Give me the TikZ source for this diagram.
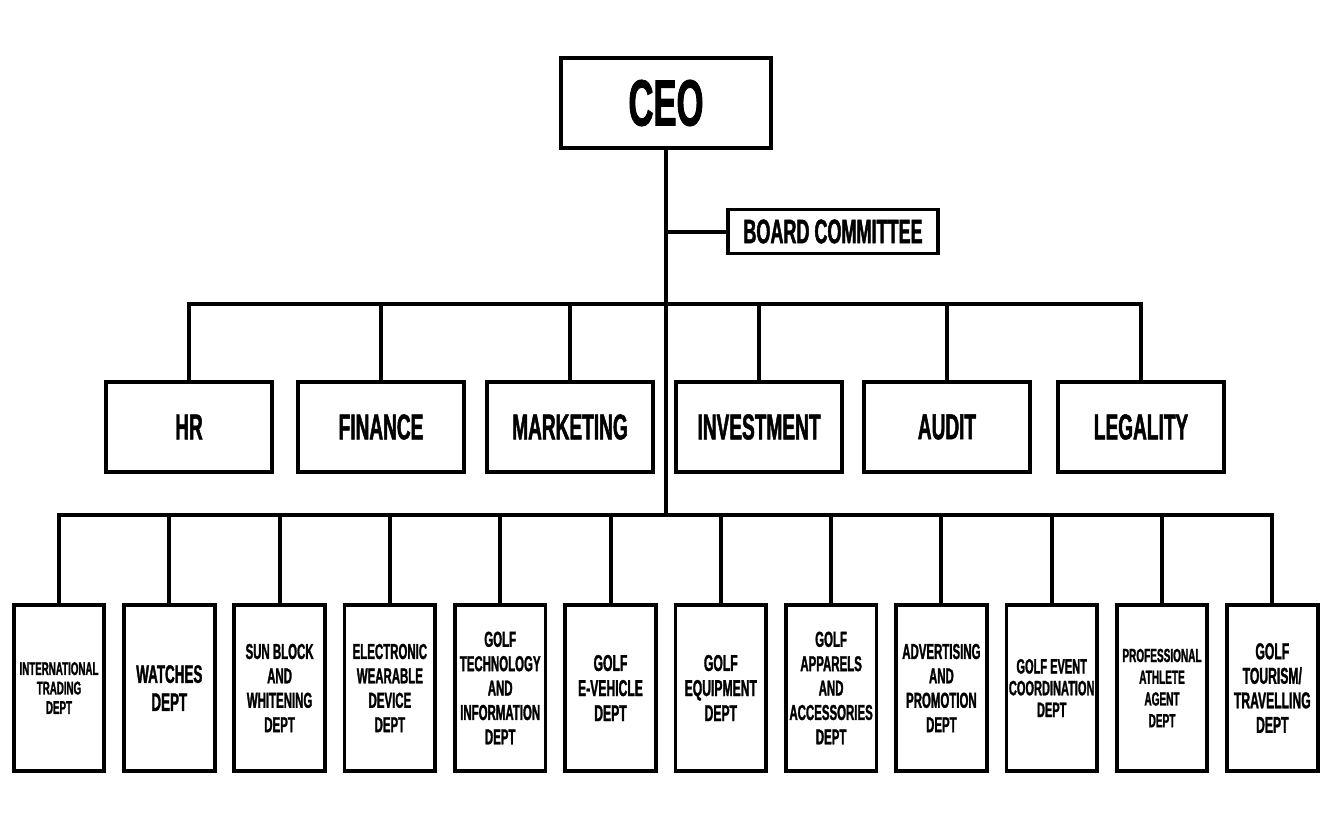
\documentclass[tikz,border=0pt]{standalone}
\usepackage{fontspec}
\newfontfamily\orgfont[FakeStretch=0.53,FakeBold=1.3]{Liberation Sans}

\tikzset{box/.style={draw,line width=2.8pt,fill=white,inner sep=0pt,align=center}}
\tikzset{ceobox/.style={box,minimum width=158pt,minimum height=68pt,font={\orgfont\bfseries\fontsize{49}{54}\selectfont}}}
\tikzset{boardbox/.style={box,minimum width=158pt,minimum height=33pt,font={\orgfont\bfseries\fontsize{25.5}{28}\selectfont}}}
\tikzset{midbox/.style={box,minimum width=124pt,minimum height=68pt,font={\orgfont\bfseries\fontsize{27}{30}\selectfont}}}
\tikzset{deptbox/.style={box,minimum width=68pt,minimum height=124pt,font={\orgfont\bfseries\fontsize{16.2}{18.3}\selectfont}}}
\tikzset{link/.style={draw,line width=3pt}}

\begin{document}
\begin{tikzpicture}[x=0.75pt,y=-0.75pt]
\useasboundingbox (0,0) rectangle (1331,822);
\node[ceobox] (ceo) at (666,103) {CEO};
\node[boardbox] (board) at (833,231.5) {BOARD COMMITTEE};
\coordinate (ubus) at (666,304);
\coordinate (lbus) at (666,515);
\path[link] (ceo.south) -- (lbus);
\path[link] (board.west) -- (board.west -| ceo.south);

% managing departments
\node[midbox] (hr) at (189,427) {HR};
\node[midbox] (finance) at (381,427) {FINANCE};
\node[midbox] (marketing) at (570,427) {MARKETING};
\node[midbox] (investment) at (759,427) {INVESTMENT};
\node[midbox] (audit) at (947,427) {AUDIT};
\node[midbox] (legality) at (1141,427) {LEGALITY};
\path[link] (hr.north) |- (ubus);
\path[link] (finance.north) |- (ubus);
\path[link] (marketing.north) |- (ubus);
\path[link] (investment.north) |- (ubus);
\path[link] (audit.north) |- (ubus);
\path[link] (legality.north) |- (ubus);

% business departments
\node[deptbox,font={\orgfont\bfseries\fontsize{13.8}{14.6}\selectfont}] (trading) at (59,688) {INTERNATIONAL\\TRADING\\DEPT};
\node[deptbox,font={\orgfont\bfseries\fontsize{19}{21}\selectfont}] (watches) at (169.3,688) {WATCHES\\DEPT};
\node[deptbox] (sunblock) at (279.6,688) {SUN BLOCK\\AND\\WHITENING\\DEPT};
\node[deptbox] (wearable) at (389.9,688) {ELECTRONIC\\WEARABLE\\DEVICE\\DEPT};
\node[deptbox] (techinfo) at (500.2,688) {GOLF\\TECHNOLOGY\\AND\\INFORMATION\\DEPT};
\node[deptbox,font={\orgfont\bfseries\fontsize{17.2}{18.8}\selectfont}] (vehicle) at (610.5,688) {GOLF\\E-VEHICLE\\DEPT};
\node[deptbox,font={\orgfont\bfseries\fontsize{17.2}{18.8}\selectfont}] (equipment) at (720.8,688) {GOLF\\EQUIPMENT\\DEPT};
\node[deptbox] (apparels) at (831.1,688) {GOLF\\APPARELS\\AND\\ACCESSORIES\\DEPT};
\node[deptbox] (advertising) at (941.4,688) {ADVERTISING\\AND\\PROMOTION\\DEPT};
\node[deptbox,font={\orgfont\bfseries\fontsize{15.6}{16.3}\selectfont}] (event) at (1051.7,688) {GOLF EVENT\\COORDINATION\\DEPT};
\node[deptbox,font={\orgfont\bfseries\fontsize{14.2}{16.3}\selectfont}] (agent) at (1162,688) {PROFESSIONAL\\ATHLETE\\AGENT\\DEPT};
\node[deptbox,font={\orgfont\bfseries\fontsize{17.2}{18.4}\selectfont}] (tourism) at (1272.3,688) {GOLF\\TOURISM/\\TRAVELLING\\DEPT};
\path[link] (trading.north) |- (lbus);
\path[link] (watches.north) |- (lbus);
\path[link] (sunblock.north) |- (lbus);
\path[link] (wearable.north) |- (lbus);
\path[link] (techinfo.north) |- (lbus);
\path[link] (vehicle.north) |- (lbus);
\path[link] (equipment.north) |- (lbus);
\path[link] (apparels.north) |- (lbus);
\path[link] (advertising.north) |- (lbus);
\path[link] (event.north) |- (lbus);
\path[link] (agent.north) |- (lbus);
\path[link] (tourism.north) |- (lbus);
\end{tikzpicture}
\end{document}
